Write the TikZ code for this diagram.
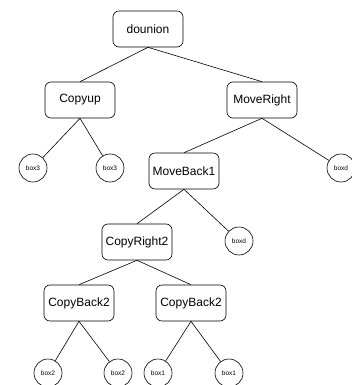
\documentclass[tikz,border=0pt]{standalone}
\usepackage{fontspec}
\setmainfont{Liberation Sans}
\tikzset{
  opbox/.style={draw, rounded corners=6pt, minimum width=70pt, minimum height=36pt, inner sep=1pt, font=\fontsize{12}{13}\selectfont},
  leaf/.style={draw, circle, minimum size=28pt, inner sep=0pt, font=\fontsize{6.5}{7}\selectfont},
}
\begin{document}
\begin{tikzpicture}[x=1pt, y=-1pt, line width=0.6pt]
	\useasboundingbox (0, 0) rectangle (352, 385);
	\node[opbox] (dounion) at (148, 29) {dounion};
	\node[opbox] (copyup) at (80, 100) {Copyup};
	\node[opbox] (moveright) at (262, 100) {MoveRight};
	\node[leaf] (l1) at (33, 168) {box3};
	\node[leaf] (l2) at (110, 168) {box3};
	\node[opbox] (moveback) at (184, 171) {MoveBack1};
	\node[leaf] (l3) at (341, 168) {boxd};
	\node[opbox] (copyright) at (137, 242) {CopyRight2};
	\node[leaf] (l4) at (239, 241) {boxd};
	\node[opbox] (cbleft) at (79, 303) {CopyBack2};
	\node[opbox] (cbright) at (191, 303) {CopyBack2};
	\node[leaf] (l5) at (48, 373) {box2};
	\node[leaf] (l6) at (118, 373) {box2};
	\node[leaf] (l7) at (158, 373) {box1};
	\node[leaf] (l8) at (229, 373) {box1};
	\draw (dounion.south) -- (copyup.north);
	\draw (dounion.south) -- (moveright.north);
	\draw (copyup.south) -- (l1);
	\draw (copyup.south) -- (l2);
	\draw (moveright.south) -- (moveback.north);
	\draw (moveright.south) -- (l3);
	\draw (moveback.south) -- (copyright.north);
	\draw (moveback.south) -- (l4);
	\draw (copyright.south) -- (cbleft.north);
	\draw (copyright.south) -- (cbright.north);
	\draw (cbleft.south) -- (l5);
	\draw (cbleft.south) -- (l6);
	\draw (cbright.south) -- (l7);
	\draw (cbright.south) -- (l8);
\end{tikzpicture}
\end{document}
